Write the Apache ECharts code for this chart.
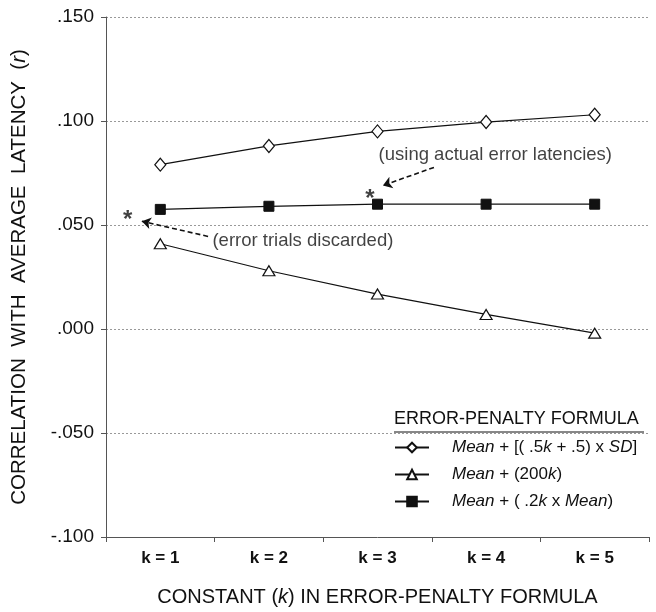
<!DOCTYPE html>
<html>
<head>
<meta charset="utf-8">
<script src="https://cdn.jsdelivr.net/npm/echarts@6/dist/echarts.min.js"></script>
<style>html,body{margin:0;padding:0;background:#fff}#c{width:656px;height:612px}</style>
</head>
<body>
<div id="c"></div>
<script>
// ---- data ----
var categories = ['k = 1', 'k = 2', 'k = 3', 'k = 4', 'k = 5'];
var sdSeries = [0.079, 0.088, 0.095, 0.0995, 0.103];      // Mean + [(.5k+.5) x SD]
var constSeries = [0.041, 0.028, 0.0168, 0.007, -0.002];   // Mean + (200k)
var meanSeries = [0.0575, 0.059, 0.060, 0.060, 0.060];     // Mean + (.2k x Mean)
var yTicks = [-0.100, -0.050, 0.000, 0.050, 0.100, 0.150];
// annotations on a hidden continuous x axis (category k = position)
var stars = [[0.70, 0.0545], [2.93, 0.0647]];
var notes = [
  {pos: [1.48, 0.0425], text: '(error trials discarded)'},
  {pos: [3.01, 0.0835], text: '(using actual error latencies)'}
];
var arrows = [
  [[1.44, 0.0445], [0.83, 0.0518]],
  [[3.52, 0.0777], [3.05, 0.0690]]
];

var FONT = 'Liberation Sans, Arial, sans-serif';
var ital = {fontStyle: 'italic', fontFamily: FONT, fontSize: 17, color: '#111'};

function fmt(v) {
  var s = Math.abs(v).toFixed(3).replace(/^0/, '');
  return (v < 0 ? '-' : '') + s;
}

var chart = echarts.init(document.getElementById('c'), null, {renderer: 'canvas'});
var lineStyle = {color: '#111', width: 1.2};
var option = {
  backgroundColor: '#fff',
  animation: false,
  textStyle: {fontFamily: FONT, color: '#111'},
  grid: {left: 106, right: 7, top: 17, bottom: 72, containLabel: false},
  title: {
    text: 'ERROR-PENALTY FORMULA',
    left: 389, top: 410, padding: [0, 5, 0, 5],
    textStyle: {fontFamily: FONT, fontSize: 18, fontWeight: 'normal', color: '#111'}
  },
  legend: {
    orient: 'vertical', left: 389, top: 434,
    itemWidth: 34, itemHeight: 12, itemGap: 10,
    data: ['sd', 'const', 'mean'],
    formatter: function (n) {
      if (n === 'sd') return '{i|Mean} + [( .5{i|k} + .5) x {i|SD}]';
      if (n === 'const') return '{i|Mean} + (200{i|k})';
      return '{i|Mean} + ( .2{i|k} x {i|Mean})';
    },
    textStyle: {fontFamily: FONT, fontSize: 17, color: '#111', padding: [0, 0, 0, 18], rich: {i: ital}}
  },
  graphic: [
    {type: 'line', shape: {x1: 394, y1: 432, x2: 644, y2: 432}, style: {stroke: '#111', lineWidth: 1}}
  ],
  xAxis: [{
    type: 'category', data: categories, boundaryGap: true,
    axisLine: {onZero: false, lineStyle: {color: '#555', width: 1}},
    axisTick: {show: true, length: 5, inside: false, lineStyle: {color: '#555'}},
    axisLabel: {fontFamily: FONT, fontSize: 17, fontWeight: 'bold', color: '#111', margin: 13},
    splitLine: {show: false},
    name: 'CONSTANT ({i|k}) IN ERROR-PENALTY FORMULA',
    nameLocation: 'middle', nameGap: 50,
    nameTextStyle: {fontFamily: FONT, fontSize: 20, color: '#111', rich: {i: {fontStyle: 'italic', fontFamily: FONT, fontSize: 20, color: '#111'}}}
  }, {
    type: 'value', min: 0.5, max: 5.5, show: false
  }],
  yAxis: {
    type: 'value', min: -0.1, max: 0.15, interval: 0.05,
    axisLine: {show: true, lineStyle: {color: '#555', width: 1}},
    axisTick: {show: true, length: 5, lineStyle: {color: '#555'}},
    axisLabel: {fontFamily: FONT, fontSize: 19, color: '#111', margin: 12, formatter: fmt},
    splitLine: {show: true, lineStyle: {color: '#999', type: [2, 2], width: 1}},
    name: 'CORRELATION  WITH  AVERAGE  LATENCY  ({i|r})',
    nameLocation: 'middle', nameGap: 76,
    nameTextStyle: {fontFamily: FONT, fontSize: 20.5, color: '#111', rich: {i: {fontStyle: 'italic', fontFamily: FONT, fontSize: 20.5, color: '#111'}}}
  },
  series: [
    {name: 'sd', type: 'line', data: sdSeries, symbol: 'diamond', symbolSize: [11, 13],
      lineStyle: lineStyle, itemStyle: {color: '#fff', borderColor: '#111', borderWidth: 1.2}, z: 3},
    {name: 'const', type: 'line', data: constSeries, symbol: 'triangle', symbolSize: [12, 10],
      lineStyle: lineStyle, itemStyle: {color: '#fff', borderColor: '#111', borderWidth: 1.2}, z: 3},
    {name: 'mean', type: 'line', data: meanSeries, symbol: 'rect', symbolSize: 10,
      lineStyle: lineStyle, itemStyle: {color: '#111', borderColor: '#111', borderWidth: 1}, z: 3},
    {name: 'stars', type: 'scatter', xAxisIndex: 1, data: stars, symbolSize: 0,
      label: {show: true, position: 'inside', formatter: '*', fontFamily: FONT, fontSize: 24, fontWeight: 'bold', color: '#111', offset: [0, 5]}, z: 5},
    {name: 'notes', type: 'scatter', xAxisIndex: 1, symbolSize: 0,
      data: notes.map(function (n) { return {value: n.pos, text: n.text}; }),
      label: {show: true, position: 'right', distance: 0, formatter: function (p) { return p.data.text; },
        fontFamily: FONT, fontSize: 18.5, color: '#111'}, z: 5},
    {name: 'arrows', type: 'lines', coordinateSystem: 'cartesian2d', xAxisIndex: 1, yAxisIndex: 0,
      data: arrows.map(function (a) { return {coords: a}; }),
      symbol: ['none', 'arrow'], symbolSize: [0, 9],
      lineStyle: {color: '#111', width: 1.6, type: [5, 3], opacity: 1}, z: 5}
  ]
};
chart.setOption(option);
</script>
</body>
</html>
